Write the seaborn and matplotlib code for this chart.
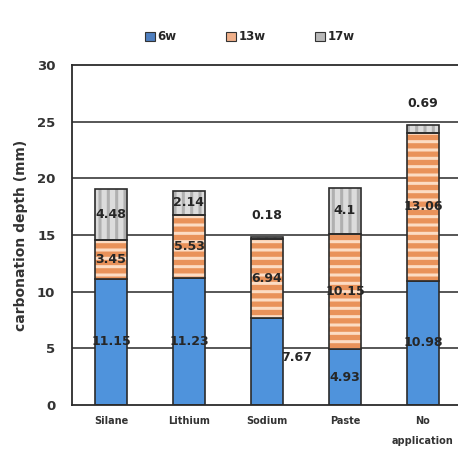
import matplotlib
matplotlib.use("Agg")
import matplotlib.pyplot as plt
from matplotlib.patches import Patch
import seaborn as sns
import pandas as pd
import numpy as np

categories = ["Silane", "Lithium", "Sodium", "Paste", "No\napplication"]
w6 = [11.15, 11.23, 7.67, 4.93, 10.98]
w13 = [3.45, 5.53, 6.94, 10.15, 13.06]
w17 = [4.48, 2.14, 0.18, 4.1, 0.69]
yticks = [0, 5, 10, 15, 20, 25, 30]

sns.set_theme(style="white")
plt.rcParams["font.family"] = ["DejaVu Sans"]
plt.rcParams["hatch.linewidth"] = 3.8

df = pd.DataFrame({"cat": categories, "w6": w6, "w13": w13, "w17": w17})
b13 = np.array(w6)
b17 = np.array(w6) + np.array(w13)

fig = plt.figure(figsize=(4.58, 4.72), dpi=100)
ax = fig.add_axes([72 / 458, 67 / 472, 390 / 458, 340 / 472])

bw = 0.41
edge = "#2b2b2b"
# grid lines behind bars
for y in yticks[1:-1]:
    ax.axhline(y, color="#3a3a3a", lw=1.2, zorder=0)

# 6w segments
sns.barplot(data=df, x="cat", y="w6", color="#4f93dc", saturation=1,
            width=bw, edgecolor=edge, linewidth=1.2, ax=ax, zorder=2)
# 13w segments: peach base with orange stripes
sns.barplot(data=df, x="cat", y="w13", bottom=b13, color="#fcdcc4", saturation=1,
            width=bw, hatch="--", edgecolor="#e9925a", linewidth=0, ax=ax, zorder=2)
sns.barplot(data=df, x="cat", y="w13", bottom=b13, color=edge, fill=False,
            width=bw, edgecolor=edge, linewidth=1.2, ax=ax, zorder=3)
# 17w segments: grey with light vertical sheen
sns.barplot(data=df, x="cat", y="w17", bottom=b17, color="#b0b0b0", saturation=1,
            width=bw, hatch="||", edgecolor="#dcdcdc", linewidth=0, ax=ax, zorder=2)
sns.barplot(data=df, x="cat", y="w17", bottom=b17, color=edge, fill=False,
            width=bw, edgecolor=edge, linewidth=1.2, ax=ax, zorder=3)

lab_kw = dict(fontsize=9, fontweight="bold", color="#262626", ha="center",
              va="center", zorder=5)
for i in range(len(categories)):
    # 6w label
    if categories[i] == "Sodium":
        ax.text(i + 0.38, w6[i] * 0.55, f"{w6[i]:g}", **lab_kw)
    else:
        ax.text(i, w6[i] / 2, f"{w6[i]:g}", **lab_kw)
    ax.text(i, b13[i] + w13[i] / 2, f"{w13[i]:g}", **lab_kw)
    top = b17[i] + w17[i]
    if w17[i] < 1:
        ax.text(i, top + 1.9, f"{w17[i]:g}", **lab_kw)
    else:
        ax.text(i, b17[i] + w17[i] / 2, f"{w17[i]:g}", **lab_kw)

ax.set_ylim(0, 30)
ax.set_xlim(-0.5, 4.5)
ax.set_yticks(yticks)
ax.set_yticklabels([str(t) for t in yticks], fontsize=9.5, fontweight="bold", color="#333")
ax.set_xticks(range(len(categories)))
ax.set_xticklabels(categories, fontsize=7, fontweight="bold", color="#333", linespacing=2.2)
ax.tick_params(axis="x", length=0, pad=8)
ax.tick_params(axis="y", length=0, pad=12)
ax.set_xlabel("")
ax.set_ylabel("carbonation depth (mm)", fontsize=10, fontweight="bold", color="#333", labelpad=6)

for side in ["left", "top", "bottom"]:
    ax.spines[side].set_visible(True)
    ax.spines[side].set_color(edge)
    ax.spines[side].set_linewidth(1.3)
ax.spines["right"].set_visible(False)

handles = [Patch(facecolor="#4f7fbf", edgecolor="#333", lw=0.8),
           Patch(facecolor="#f0b08a", edgecolor="#333", lw=0.8),
           Patch(facecolor="#b8b8b8", edgecolor="#333", lw=0.8)]
fig.legend(handles, ["6w", "13w", "17w"], loc="center", bbox_to_anchor=(250 / 458, 1 - 37 / 472),
           ncol=3, frameon=False, handlelength=0.8, handleheight=0.8, handletextpad=0.25,
           columnspacing=4.2, prop={"size": 8.5, "weight": "bold"})

fig.savefig("out.png", dpi=100)
